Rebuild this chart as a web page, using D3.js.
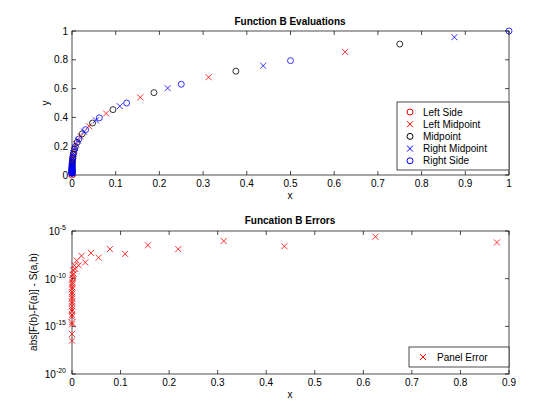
<!DOCTYPE html>
<html><head><meta charset="utf-8">
<script src="https://cdn.jsdelivr.net/npm/d3@7"></script>
<style>body{margin:0;background:#fff}svg{font-family:"Liberation Sans",Arial,sans-serif;font-size:10px}</style>
</head><body><svg id="c" width="560" height="420"></svg>
<script>
// Top plot: sample points of the adaptive rule
const leftSideX = [0];
const leftSideY = [0];
const rightSideX = [1, 0.5, 0.25, 0.125, 0.0625, 0.03125, 0.015625, 0.0078125, 0.0039063, 0.0019531, 0.0009766, 0.0004883, 0.0002441, 0.0001221, 0.000061, 0.0000305, 0.0000153, 0.0000076, 0.0000038, 0.0000019];
const rightSideY = [1, 0.794, 0.630, 0.5, 0.397, 0.315, 0.25, 0.198, 0.157, 0.125, 0.0992, 0.0787, 0.0625, 0.0496, 0.0394, 0.0313, 0.0248, 0.0197, 0.0156, 0.0124];
const midX = [0.75, 0.375, 0.1875, 0.09375, 0.046875, 0.023438, 0.011719, 0.0058594, 0.0029297, 0.0014648, 0.0007324, 0.0003662, 0.0001831, 0.0000916, 0.0000458, 0.0000229, 0.0000114, 0.0000057, 0.0000029, 0.0000014];
const midY = [0.909, 0.721, 0.572, 0.454, 0.361, 0.286, 0.227, 0.180, 0.143, 0.114, 0.0901, 0.0715, 0.0568, 0.0451, 0.0358, 0.0284, 0.0225, 0.0179, 0.0142, 0.0113];
const leftMidX = [0.625, 0.3125, 0.15625, 0.078125, 0.039063, 0.019531, 0.0097656, 0.0048828, 0.0024414, 0.0012207, 0.0006104, 0.0003052, 0.0001526, 0.0000763, 0.0000381, 0.0000191, 0.0000095, 0.0000048, 0.0000024, 0.0000012];
const leftMidY = [0.855, 0.679, 0.539, 0.427, 0.339, 0.269, 0.214, 0.169, 0.134, 0.107, 0.0848, 0.0673, 0.0534, 0.0424, 0.0337, 0.0267, 0.0212, 0.0168, 0.0134, 0.0106];
const rightMidX = [0.875, 0.4375, 0.21875, 0.109375, 0.054688, 0.027344, 0.013672, 0.0068359, 0.003418, 0.001709, 0.0008545, 0.0004272, 0.0002136, 0.0001068, 0.0000534, 0.0000267, 0.0000134, 0.0000067, 0.0000033, 0.0000017];
const rightMidY = [0.957, 0.759, 0.603, 0.478, 0.380, 0.301, 0.239, 0.189, 0.150, 0.120, 0.0949, 0.0753, 0.0598, 0.0474, 0.0377, 0.0299, 0.0237, 0.0188, 0.0149, 0.0119];

// Bottom plot: panel errors (log10 of the error) at panel midpoints
const errX = [0.875, 0.625, 0.4375, 0.3125, 0.21875, 0.15625, 0.109375, 0.078125, 0.054688, 0.039063, 0.027344, 0.019531, 0.013672, 0.0097656, 0.0068359, 0.0048828, 0.003418, 0.0024414, 0.001709, 0.0012207, 0.0008545, 0.0006104, 0.0004272, 0.0003052, 0.0002136, 0.0001526, 0.0001068, 0.0000763, 0.0000534, 0.0000381, 0.0000267, 0.0000191, 0.0000134, 0.0000095, 0.0000067, 0.0000048, 0.0000033, 0.0000024, 0.0000017, 0.0000012];
const errLog = [-6.2, -5.6, -6.6, -6.05, -6.9, -6.5, -7.4, -6.9, -7.8, -7.3, -8.3, -7.6, -8.6, -8.1, -9.0, -8.6, -9.5, -9.1, -9.9, -9.6, -10.4, -10.1, -10.9, -10.6, -11.4, -11.1, -11.9, -11.6, -12.4, -12.1, -12.9, -12.6, -13.4, -13.2, -14.0, -13.8, -14.8, -14.6, -15.8, -16.5];

const topTicksX = d3.range(0, 1.01, 0.1);
const topTicksY = d3.range(0, 1.01, 0.2);
const botTicksX = d3.range(0, 0.91, 0.1);
const botTicksYExp = [-20, -15, -10, -5];

const svg = d3.select("#c");
const fmt = d => d === 0 ? "0" : (+d.toFixed(1)).toString();

function frame(x, y, L, R, T, B, tx, ty, tyFmt) {
  const g = svg.append("g");
  g.append("rect").attr("x", L).attr("y", T).attr("width", R - L).attr("height", B - T)
    .attr("fill", "none").attr("stroke", "#000").attr("stroke-width", 0.7);
  tx.forEach(v => {
    const px = x(v);
    g.append("line").attr("x1", px).attr("x2", px).attr("y1", B).attr("y2", B - 4).attr("stroke", "#000").attr("stroke-width", 0.7);
    g.append("line").attr("x1", px).attr("x2", px).attr("y1", T).attr("y2", T + 4).attr("stroke", "#000").attr("stroke-width", 0.7);
    g.append("text").attr("x", px).attr("y", B + 12).attr("text-anchor", "middle").text(fmt(v));
  });
  ty.forEach(v => {
    const py = y(v);
    g.append("line").attr("x1", L).attr("x2", L + 4).attr("y1", py).attr("y2", py).attr("stroke", "#000").attr("stroke-width", 0.7);
    g.append("line").attr("x1", R).attr("x2", R - 4).attr("y1", py).attr("y2", py).attr("stroke", "#000").attr("stroke-width", 0.7);
    tyFmt(g, v, py);
  });
  return g;
}

function circles(g, xs, ys, x, y, color) {
  g.selectAll(null).data(xs).join("circle")
    .attr("cx", d => x(d)).attr("cy", (d, i) => y(ys[i])).attr("r", 3)
    .attr("fill", "none").attr("stroke", color).attr("stroke-width", 0.8);
}
function crosses(g, xs, ys, x, y, color) {
  g.selectAll(null).data(xs).join("path")
    .attr("transform", (d, i) => `translate(${x(d)},${y(ys[i])})`)
    .attr("d", "M-3,-3L3,3M-3,3L3,-3")
    .attr("stroke", color).attr("stroke-width", 0.8);
}

// ---- top plot
const x1 = d3.scaleLinear().domain([0, 1]).range([72, 509]);
const y1 = d3.scaleLinear().domain([0, 1]).range([175, 31]);
const g1 = frame(x1, y1, 72, 509, 31, 175, topTicksX, topTicksY, (g, v, py) =>
  g.append("text").attr("x", 68).attr("y", py + 3.5).attr("text-anchor", "end").text(fmt(v)));
circles(g1, leftSideX, leftSideY, x1, y1, "red");
crosses(g1, leftMidX, leftMidY, x1, y1, "red");
circles(g1, midX, midY, x1, y1, "black");
crosses(g1, rightMidX, rightMidY, x1, y1, "blue");
circles(g1, rightSideX, rightSideY, x1, y1, "blue");
svg.append("text").attr("x", 290).attr("y", 25).attr("text-anchor", "middle").attr("font-weight", "bold").text("Function B Evaluations");
svg.append("text").attr("x", 290).attr("y", 199).attr("text-anchor", "middle").text("x");
svg.append("text").attr("transform", "translate(49,103) rotate(-90)").attr("text-anchor", "middle").text("y");

// legend top
const lg = svg.append("g");
lg.append("rect").attr("x", 397).attr("y", 102).attr("width", 112).attr("height", 68).attr("fill", "#fff").attr("stroke", "#000").attr("stroke-width", 0.7);
const legItems = [["Left Side", "o", "red"], ["Left Midpoint", "x", "red"], ["Midpoint", "o", "black"], ["Right Midpoint", "x", "blue"], ["Right Side", "o", "blue"]];
legItems.forEach((d, i) => {
  const cy = 112 + i * 12.2;
  if (d[1] === "o") lg.append("circle").attr("cx", 410).attr("cy", cy).attr("r", 3).attr("fill", "none").attr("stroke", d[2]);
  else lg.append("path").attr("transform", `translate(410,${cy})`).attr("d", "M-3,-3L3,3M-3,3L3,-3").attr("stroke", d[2]);
  lg.append("text").attr("x", 423).attr("y", cy + 3.5).text(d[0]);
});

// ---- bottom plot
const x2 = d3.scaleLinear().domain([0, 0.9]).range([72, 509]);
const y2 = d3.scaleLinear().domain([-20, -5]).range([374, 231]);
const g2 = frame(x2, y2, 72, 509, 231, 374, botTicksX, botTicksYExp, (g, v, py) => {
  const t = g.append("text").attr("x", 66).attr("y", py + 4).attr("text-anchor", "end");
  t.append("tspan").text("10");
  t.append("tspan").attr("dy", -5).attr("font-size", 7).text(v);
});
crosses(g2, errX, errLog, x2, y2, "red");
svg.append("text").attr("x", 290).attr("y", 224).attr("text-anchor", "middle").attr("font-weight", "bold").text("Funcation B Errors");
svg.append("text").attr("x", 290).attr("y", 398).attr("text-anchor", "middle").text("x");
svg.append("text").attr("transform", "translate(37,302) rotate(-90)").attr("text-anchor", "middle").text("abs[F(b)-F(a)] - S(a,b)");

const lg2 = svg.append("g");
lg2.append("rect").attr("x", 409).attr("y", 347).attr("width", 100).attr("height", 20).attr("fill", "#fff").attr("stroke", "#000").attr("stroke-width", 0.7);
lg2.append("path").attr("transform", "translate(423,357)").attr("d", "M-3,-3L3,3M-3,3L3,-3").attr("stroke", "red");
lg2.append("text").attr("x", 437).attr("y", 360.5).text("Panel Error");
</script></body></html>
